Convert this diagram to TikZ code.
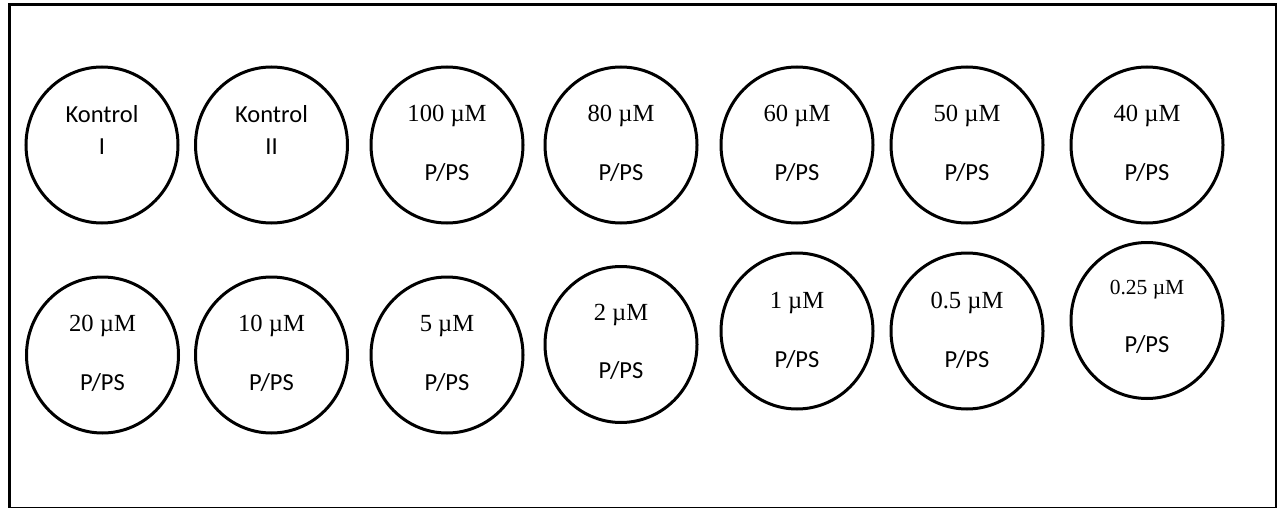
\documentclass[tikz,border=0pt]{standalone}
\usepackage{fontspec}
\setmainfont{Liberation Serif}
\newfontfamily\calib{Carlito}
\usetikzlibrary{shapes.geometric}
\tikzset{
  well/.style={ellipse, draw=black, line width=3pt, minimum width=152pt, minimum height=156pt, inner sep=0pt},
  conc/.style={anchor=base, inner sep=0pt, font=\fontsize{24.6}{28}\selectfont},
  small/.style={anchor=base, inner sep=0pt, font=\fontsize{21.5}{25}\selectfont},
  lab/.style={anchor=base, inner sep=0pt, font=\calib\fontsize{24.5}{28}\selectfont},
  frame/.style={draw=black, line width=2.8pt}
}
\begin{document}
\begin{tikzpicture}[x=1pt, y=-1pt]
\useasboundingbox (0,0) rectangle (1277,508);
\node[frame, minimum width=1267pt, minimum height=503pt, inner sep=0pt, anchor=north west] (plate) at (8,3.5) {};
% top row
\node[well] (w1) at (102,145) {};
\node[well] (w2) at (271.5,145) {};
\node[well] (w3) at (447,145) {};
\node[well] (w4) at (621,145) {};
\node[well] (w5) at (797,145) {};
\node[well] (w6) at (967,145) {};
\node[well] (w7) at (1147,145) {};
% bottom row
\node[well] (w8) at (102.5,355) {};
\node[well] (w9) at (271.5,355) {};
\node[well] (w10) at (447,355) {};
\node[well] (w11) at (621,344.5) {};
\node[well] (w12) at (797,331) {};
\node[well] (w13) at (967,331) {};
\node[well] (w14) at (1147,320.5) {};
% texts top row
\node[lab] (t1a) at ([yshift=22pt]w1.center) {Kontrol};
\node[lab] (t1b) at ([yshift=-10pt]w1.center) {I};
\node[lab] (t2a) at ([yshift=22pt]w2.center) {Kontrol};
\node[lab] (t2b) at ([yshift=-10pt]w2.center) {II};
\node[conc] (t3a) at ([yshift=23pt]w3.center) {100 µM};
\node[lab] (t3b) at ([yshift=-35pt]w3.center) {P/PS};
\node[conc] (t4a) at ([yshift=23pt]w4.center) {80 µM};
\node[lab] (t4b) at ([yshift=-35pt]w4.center) {P/PS};
\node[conc] (t5a) at ([yshift=23pt]w5.center) {60 µM};
\node[lab] (t5b) at ([yshift=-35pt]w5.center) {P/PS};
\node[conc] (t6a) at ([yshift=23pt]w6.center) {50 µM};
\node[lab] (t6b) at ([yshift=-35pt]w6.center) {P/PS};
\node[conc] (t7a) at ([yshift=23pt]w7.center) {40 µM};
\node[lab] (t7b) at ([yshift=-35pt]w7.center) {P/PS};
% texts bottom row
\node[conc] (t8a) at ([yshift=24pt]w8.center) {20 µM};
\node[lab] (t8b) at ([yshift=-35pt]w8.center) {P/PS};
\node[conc] (t9a) at ([yshift=24pt]w9.center) {10 µM};
\node[lab] (t9b) at ([yshift=-35pt]w9.center) {P/PS};
\node[conc] (t10a) at ([yshift=24pt]w10.center) {5 µM};
\node[lab] (t10b) at ([yshift=-35pt]w10.center) {P/PS};
\node[conc] (t11a) at ([yshift=24.5pt]w11.center) {2 µM};
\node[lab] (t11b) at ([yshift=-33.5pt]w11.center) {P/PS};
\node[conc] (t12a) at ([yshift=23pt]w12.center) {1 µM};
\node[lab] (t12b) at ([yshift=-36pt]w12.center) {P/PS};
\node[conc] (t13a) at ([yshift=23pt]w13.center) {0.5 µM};
\node[lab] (t13b) at ([yshift=-36pt]w13.center) {P/PS};
\node[small] (t14a) at ([yshift=26.5pt]w14.center) {0.25 µM};
\node[lab] (t14b) at ([yshift=-31.5pt]w14.center) {P/PS};
\end{tikzpicture}
\end{document}
